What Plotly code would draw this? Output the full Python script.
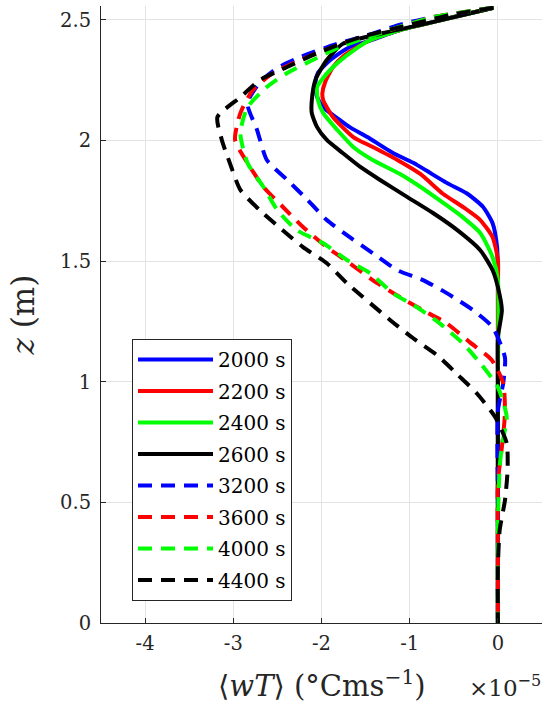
import plotly.graph_objects as go

# wT values in units of 1e-5 degC m/s, z in m
labels = ["2000 s", "2200 s", "2400 s", "2600 s", "3200 s", "3600 s", "4000 s", "4400 s"]
colors = ["#0000FF", "#FF0000", "#00FF00", "#000000", "#0000FF", "#FF0000", "#00FF00", "#000000"]
dashed = [False, False, False, False, True, True, True, True]

z_2000 = [2.55, 2.52, 2.49, 2.457, 2.41, 2.387, 2.333, 2.28, 2.237, 2.18, 2.137, 2.084, 2.055, 2.014, 1.948, 1.907, 1.824, 1.78, 1.725, 1.657, 1.56, 1.45, 1.0, 0.5, 0.0]
w_2000 = [-0.05, -0.40, -0.74, -1.11, -1.48, -1.68, -1.90, -2.04, -2.07, -2.05, -1.98, -1.79, -1.68, -1.48, -1.19, -0.96, -0.58, -0.35, -0.17, -0.06, -0.01, 0.0, 0.0, 0.0, 0.0]

z_2200 = [2.55, 2.52, 2.49, 2.457, 2.41, 2.35, 2.304, 2.24, 2.196, 2.166, 2.097, 2.014, 1.973, 1.919, 1.861, 1.778, 1.725, 1.670, 1.599, 1.504, 1.392, 1.0, 0.5, 0.0]
w_2200 = [-0.05, -0.40, -0.74, -1.11, -1.48, -1.75, -1.87, -1.96, -1.99, -1.98, -1.87, -1.64, -1.42, -1.14, -0.88, -0.62, -0.40, -0.20, -0.06, 0.0, 0.0, 0.0, 0.0, 0.0]

z_2400 = [2.55, 2.52, 2.49, 2.457, 2.41, 2.35, 2.30, 2.25, 2.221, 2.166, 2.113, 2.043, 1.973, 1.919, 1.861, 1.808, 1.741, 1.682, 1.616, 1.516, 1.421, 1.0, 0.5, 0.0]
w_2400 = [-0.05, -0.40, -0.74, -1.11, -1.48, -1.72, -1.88, -2.00, -2.05, -2.04, -1.98, -1.82, -1.64, -1.42, -1.11, -0.88, -0.62, -0.40, -0.20, -0.06, 0.0, 0.0, 0.0, 0.0]

z_2600 = [2.55, 2.52, 2.49, 2.445, 2.40, 2.333, 2.25, 2.166, 2.113, 2.055, 2.002, 1.948, 1.890, 1.837, 1.766, 1.70, 1.628, 1.545, 1.462, 1.392, 1.296, 1.185, 1.0, 0.5, 0.0]
w_2600 = [-0.05, -0.40, -0.74, -1.30, -1.76, -1.94, -2.07, -2.11, -2.11, -2.05, -1.94, -1.76, -1.56, -1.34, -1.03, -0.74, -0.46, -0.20, -0.06, 0.0, 0.045, 0.0, 0.0, 0.0, 0.0]

z_3200 = [2.55, 2.51, 2.48, 2.436, 2.395, 2.345, 2.30, 2.24, 2.154, 2.043, 1.919, 1.837, 1.754, 1.670, 1.599, 1.533, 1.462, 1.421, 1.367, 1.296, 1.226, 1.10, 0.994, 0.88, 0.5, 0.0]
w_3200 = [-0.05, -0.74, -1.11, -1.48, -1.87, -2.24, -2.50, -2.70, -2.84, -2.73, -2.62, -2.39, -2.16, -1.94, -1.68, -1.42, -1.14, -0.85, -0.58, -0.28, -0.06, 0.08, 0.06, 0.0, 0.0, 0.0]

z_3600 = [2.55, 2.51, 2.449, 2.387, 2.333, 2.279, 2.208, 2.113, 2.002, 1.907, 1.808, 1.725, 1.641, 1.558, 1.491, 1.421, 1.350, 1.296, 1.242, 1.164, 1.090, 0.994, 0.870, 0.745, 0.58, 0.3, 0.0]
w_3600 = [-0.05, -0.74, -1.30, -1.87, -2.24, -2.55, -2.78, -2.92, -2.98, -2.84, -2.66, -2.44, -2.21, -1.94, -1.68, -1.42, -1.11, -0.85, -0.58, -0.32, -0.07, 0.06, 0.08, 0.05, 0.0, 0.0, 0.0]

z_4000 = [2.55, 2.51, 2.449, 2.387, 2.333, 2.279, 2.221, 2.137, 2.030, 1.907, 1.808, 1.711, 1.628, 1.574, 1.504, 1.450, 1.367, 1.309, 1.242, 1.160, 1.068, 0.977, 0.853, 0.745, 0.646, 0.4, 0.0]
w_4000 = [-0.05, -0.74, -1.30, -1.79, -2.10, -2.39, -2.62, -2.84, -2.92, -2.84, -2.66, -2.50, -2.28, -1.98, -1.71, -1.45, -1.19, -0.92, -0.66, -0.40, -0.18, 0.0, 0.10, 0.05, 0.02, 0.0, 0.0]

z_4400 = [2.55, 2.52, 2.469, 2.428, 2.362, 2.304, 2.25, 2.179, 2.097, 2.002, 1.907, 1.795, 1.711, 1.628, 1.558, 1.491, 1.408, 1.255, 1.180, 1.110, 1.027, 0.952, 0.853, 0.745, 0.634, 0.509, 0.384, 0.231, 0.0]
w_4400 = [-0.05, -0.54, -1.11, -1.56, -2.05, -2.39, -2.70, -2.92, -3.18, -3.13, -3.04, -2.92, -2.70, -2.44, -2.21, -1.94, -1.71, -1.22, -0.96, -0.69, -0.45, -0.24, -0.03, 0.10, 0.11, 0.08, 0.02, 0.0, 0.0]

w_series = [w_2000, w_2200, w_2400, w_2600, w_3200, w_3600, w_4000, w_4400]
z_series = [z_2000, z_2200, z_2400, z_2600, z_3200, z_3600, z_4000, z_4400]

x_ticks = [-4, -3, -2, -1, 0]
x_ticktext = ["-4", "-3", "-2", "-1", "0"]
y_ticks = [0, 0.5, 1, 1.5, 2, 2.5]
y_ticktext = ["0", "0.5", "1", "1.5", "2", "2.5"]

FONT = "DejaVu Serif"
AX = "#262626"

fig = go.Figure()
for w, z, lab, c, d in zip(w_series, z_series, labels, colors, dashed):
    fig.add_trace(go.Scatter(
        x=w, y=z, mode="lines", name=lab, legendgroup=lab,
        line=dict(color=c, width=4, dash="14px,9px" if d else "solid", shape="spline", smoothing=0.6),
    ))

fig.update_layout(
    width=542, height=706,
    margin=dict(l=101, r=0, t=6, b=83),
    paper_bgcolor="white", plot_bgcolor="white",
    font=dict(family=FONT, size=20, color="#000000"),
    showlegend=True,
    legend=dict(
        x=0.0703, y=0.4603, xanchor="left", yanchor="top",
        bgcolor="white", bordercolor=AX, borderwidth=1,
        font=dict(family=FONT, size=20, color="#000000"),
        tracegroupgap=2.5, itemwidth=75,
    ),
    xaxis=dict(
        range=[-4.5, 0.5], tickvals=x_ticks, ticktext=x_ticktext,
        showline=True, linecolor=AX, linewidth=1,
        ticks="inside", ticklen=5, tickcolor=AX,
        showgrid=True, gridcolor="#e3e3e3", gridwidth=1, zeroline=False,
        tickfont=dict(family=FONT, size=19.5, color="#262626"),
        ticklabelstandoff=3,
    ),
    yaxis=dict(
        range=[0, 2.557], tickvals=y_ticks, ticktext=y_ticktext,
        showline=True, linecolor=AX, linewidth=1,
        ticks="inside", ticklen=5, tickcolor=AX,
        showgrid=True, gridcolor="#e3e3e3", gridwidth=1, zeroline=False,
        tickfont=dict(family=FONT, size=19.5, color="#262626"),
        ticklabelstandoff=5,
    ),
    annotations=[
        dict(text="⟨<i>wT</i>⟩ (°Cms<sup>−1</sup>)", xref="paper", yref="paper",
             x=0.5, y=-0.099, xanchor="center", yanchor="middle", showarrow=False,
             font=dict(family=FONT, size=29, color="#262626")),
        dict(text="×10<sup>−5</sup>", xref="paper", yref="paper",
             x=0.916, y=-0.102, xanchor="center", yanchor="middle", showarrow=False,
             font=dict(family=FONT, size=23, color="#262626")),
        dict(text="<i>z</i> (m)", xref="paper", yref="paper", textangle=-90,
             x=-0.176, y=0.499, xanchor="center", yanchor="middle", showarrow=False,
             font=dict(family=FONT, size=31, color="#262626")),
    ],
)

fig.write_html("out.html")
